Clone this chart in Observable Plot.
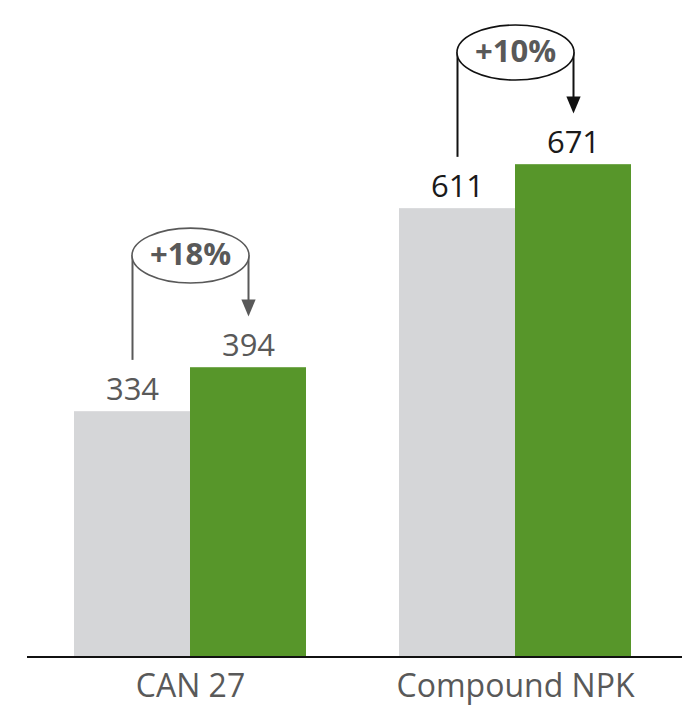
<!DOCTYPE html>
<html>
<head>
<meta charset="utf-8">
<script src="https://cdn.jsdelivr.net/npm/d3@7"></script>
<script src="https://cdn.jsdelivr.net/npm/@observablehq/plot@0.6"></script>
<style>
  body { margin: 0; background: #fff; font-family: "Open Sans", sans-serif; }
</style>
</head>
<body>
<div id="chart"></div>
<script>
// Yield per fertiliser type, standard practice vs improved practice
const groups = ["CAN 27", "Compound NPK"];
const series = ["Standard", "Improved"];
const standardValues = [334, 611];
const improvedValues = [394, 671];
const changeLabels = ["+18%", "+10%"];

const bars = groups.flatMap((group, i) => [
  {group, series: series[0], value: standardValues[i]},
  {group, series: series[1], value: improvedValues[i]}
]);
const changes = groups.map((group, i) => ({
  group, from: standardValues[i], to: improvedValues[i], label: changeLabels[i]
}));

const barFill = {Standard: "#d5d6d8", Improved: "#57962a"};
const labelInk = {"CAN 27": "#595959", "Compound NPK": "#1a1a1a"};
const calloutInk = {"CAN 27": "#595959", "Compound NPK": "#111111"};

// callout placement above the bars, in value units
const stemGap = 70;   // space between a bar's top and the end of its stem
const capLift = 153;  // height of the ellipse centre above the improved bar

// ellipse drawn as a dot symbol; r sets the horizontal radius
const ellipse = {
  draw(ctx, size) {
    const rx = Math.sqrt(size / Math.PI), ry = rx * 0.47, k = 0.5523;
    ctx.moveTo(-rx, 0);
    ctx.bezierCurveTo(-rx, -ry * k, -rx * k, -ry, 0, -ry);
    ctx.bezierCurveTo(rx * k, -ry, rx, -ry * k, rx, 0);
    ctx.bezierCurveTo(rx, ry * k, rx * k, ry, 0, ry);
    ctx.bezierCurveTo(-rx * k, ry, -rx, ry * k, -rx, 0);
    ctx.closePath();
  }
};

// downward arrowhead with its tip at the anchor point
const arrowhead = {
  draw(ctx, size) {
    const h = Math.sqrt(size / Math.PI), w = h * 0.42;
    ctx.moveTo(-w, -h);
    ctx.lineTo(w, -h);
    ctx.lineTo(0, 0);
    ctx.closePath();
  }
};

const chart = Plot.plot({
  width: 682,
  height: 706,
  marginTop: 0,
  marginBottom: 50,
  marginLeft: 27,
  marginRight: 0,
  style: {fontFamily: "Open Sans", fontSize: "32px", color: "#595959", background: "#fff"},
  fx: {
    domain: groups, axis: "bottom", label: null, tickSize: 0, tickPadding: 18,
    paddingInner: 0.286, paddingOuter: 0.15, align: 0.48
  },
  x: {domain: series, padding: 0, axis: null},
  y: {domain: [0, 895], axis: null},
  marks: [
    Plot.barY(bars, {fx: "group", x: "series", y: "value", fill: d => barFill[d.series]}),
    // baseline, stretched past each facet so the pieces join into one axis line
    Plot.ruleY([0], {
      insetLeft: -47, insetRight: -51, stroke: "#111", strokeWidth: 2, shapeRendering: "crispEdges"
    }),
    Plot.text(bars, {
      fx: "group", x: "series", y: "value", text: d => `${d.value}`,
      lineAnchor: "bottom", dy: -12, fontSize: 31, fill: d => labelInk[d.group]
    }),
    Plot.ruleX(changes, {
      fx: "group", x: d => series[0], y1: d => d.from + stemGap, y2: d => d.to + capLift,
      stroke: d => calloutInk[d.group], strokeWidth: 2
    }),
    Plot.ruleX(changes, {
      fx: "group", x: d => series[1], y1: d => d.to + capLift, y2: d => d.to + stemGap + 10,
      stroke: d => calloutInk[d.group], strokeWidth: 2
    }),
    Plot.dot(changes, {
      fx: "group", x: d => series[1], y: d => d.to + stemGap,
      symbol: arrowhead, r: 17, fill: d => calloutInk[d.group], stroke: null
    }),
    Plot.dot(changes, {
      fx: "group", x: d => series[0], y: d => d.to + capLift, dx: 58,
      symbol: ellipse, r: 58.5, fill: "#fff", stroke: d => calloutInk[d.group], strokeWidth: 1.6
    }),
    Plot.text(changes, {
      fx: "group", x: d => series[0], y: d => d.to + capLift, dx: 58,
      text: "label", fontWeight: "bold", fontSize: 31, fill: "#595959"
    })
  ]
});

document.getElementById("chart").appendChild(chart);
</script>
</body>
</html>
